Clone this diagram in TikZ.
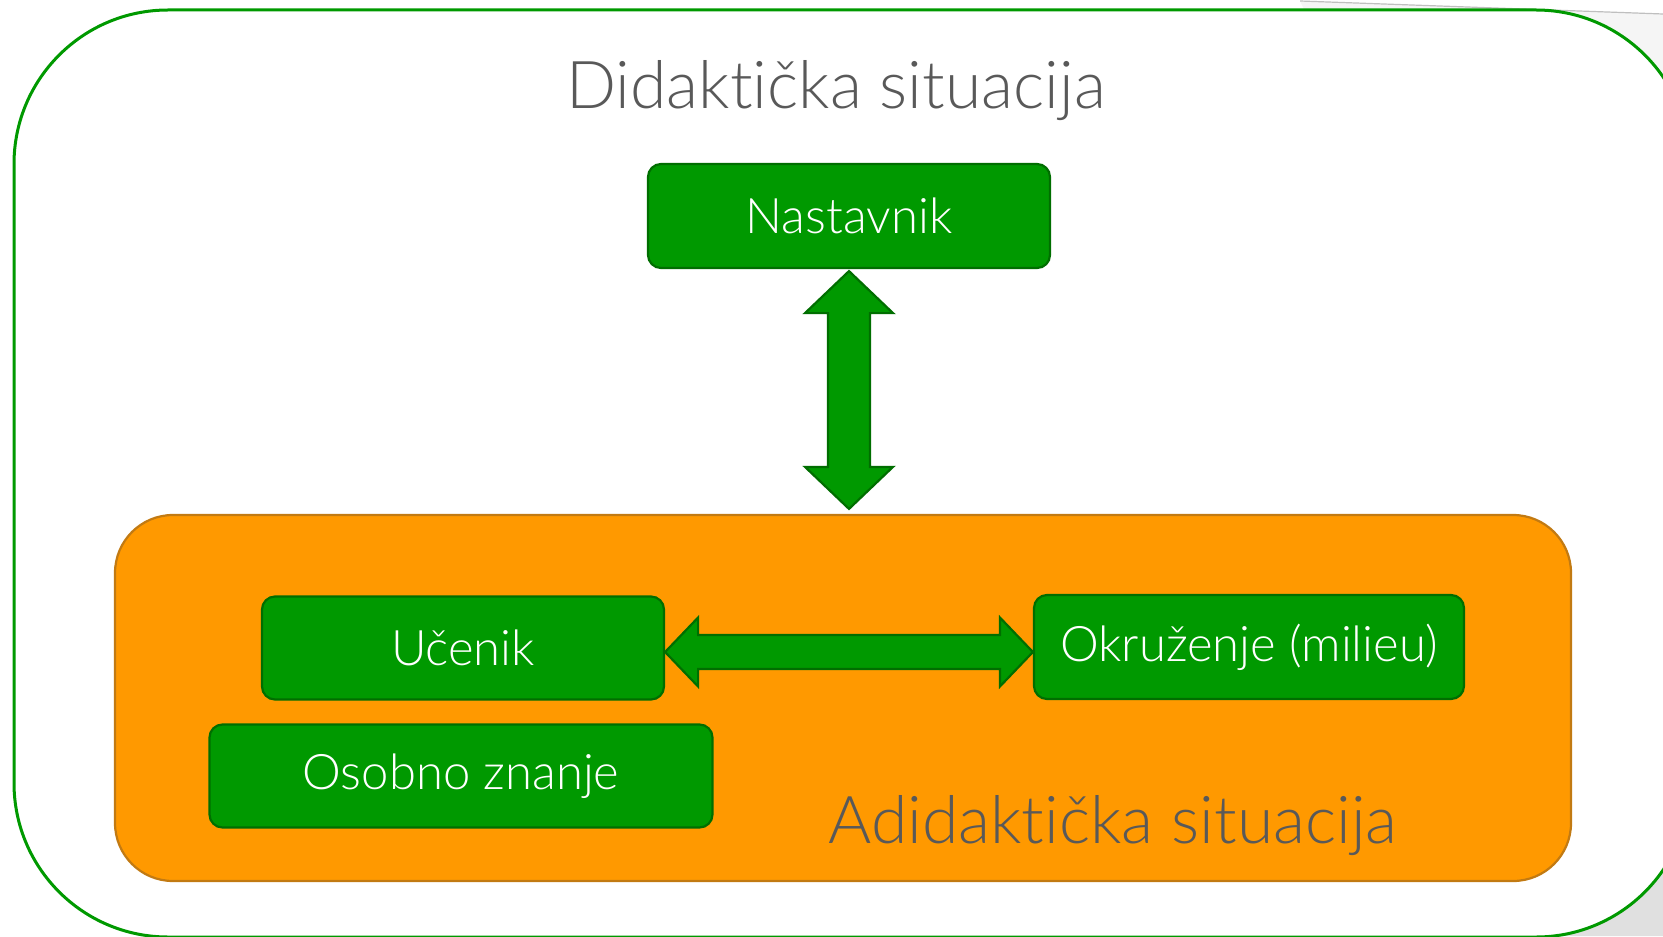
\documentclass[tikz,border=0pt]{standalone}
\usepackage{fontspec}
\setmainfont{Lato Light}[Ligatures=NoCommon]
\usetikzlibrary{calc}

\definecolor{boxgreen}{HTML}{009900}
\definecolor{boxline}{HTML}{006E00}
\definecolor{adorange}{HTML}{FF9900}
\definecolor{adline}{HTML}{C27A12}
\definecolor{titlegray}{HTML}{595959}

\tikzset{
  rolebox/.style={draw=boxline, fill=boxgreen, line width=1.1pt,
    rounded corners=6.5pt, text=white, inner sep=0pt,
    font=\fontsize{24.5}{28}\selectfont},
  fatarrow/.style={draw=boxline, fill=boxgreen, line width=1.1pt},
  sittitle/.style={text=titlegray, anchor=base, inner sep=0pt,
    font=\fontsize{33}{38}\selectfont}
}

\begin{document}
\begin{tikzpicture}[x=0.5pt, y=-0.5pt]
  \useasboundingbox (0,0) rectangle (1663,936);
  \clip (0,0) rectangle (1663,936);
  % page edge behind the frame
  \fill[black!12] (1400,936) -- (1663,760) -- (1663,936) -- cycle;
  \fill[black!4] (1300,1) -- (1663,14) -- (1663,760) -- cycle;
  \draw[black!25, line width=0.6pt] (1300,1) -- (1663,14);
  \filldraw[fill=white, draw=boxgreen, line width=1.5pt, rounded corners=77pt]
    (14,10) rectangle (1690,937);

  \node[sittitle] (didtitle) at (836,109) {Didaktička situacija};

  \node[draw=adline, fill=adorange, line width=1.1pt, rounded corners=29pt,
    minimum width=728pt, minimum height=183pt] (adid) at (843,698) {};
  \node[sittitle] (adidtitle) at (1113,843) {Adidaktička situacija};

  \node[rolebox, minimum width=201pt, minimum height=52pt] (nast) at (849,216) {Nastavnik};
  \node[rolebox, minimum width=201pt, minimum height=51.5pt] (ucenik) at (463,648) {Učenik};
  \node[rolebox, minimum width=215pt, minimum height=52pt] (milieu) at (1249,647) {Okruženje (milieu)};
  \node[rolebox, minimum width=251.5pt, minimum height=51.5pt] (osobno) at (461,776) {Osobno znanje};

  \draw[fatarrow] let \p1=($(nast.south)+(0,2)$), \p2=($(adid.north)+(0,-5)$) in
    (\x1,\y1) -- (\x1+22pt,\y1-21pt) -- (\x1+10.5pt,\y1-21pt)
    -- (\x1+10.5pt,\y2+21pt) -- (\x1+22pt,\y2+21pt) -- (\x1,\y2)
    -- (\x1-22pt,\y2+21pt) -- (\x1-10.5pt,\y2+21pt)
    -- (\x1-10.5pt,\y1-21pt) -- (\x1-22pt,\y1-21pt) -- cycle;

  \draw[fatarrow] let \p1=($(ucenik.east)+(0,4)$), \p2=(milieu.west) in
    (\x1,\y1) -- (\x1+16.5pt,\y1+17.25pt) -- (\x1+16.5pt,\y1+8.5pt)
    -- (\x2-16.5pt,\y1+8.5pt) -- (\x2-16.5pt,\y1+17.25pt) -- (\x2,\y1)
    -- (\x2-16.5pt,\y1-17.25pt) -- (\x2-16.5pt,\y1-8.5pt)
    -- (\x1+16.5pt,\y1-8.5pt) -- (\x1+16.5pt,\y1-17.25pt) -- cycle;
\end{tikzpicture}
\end{document}
